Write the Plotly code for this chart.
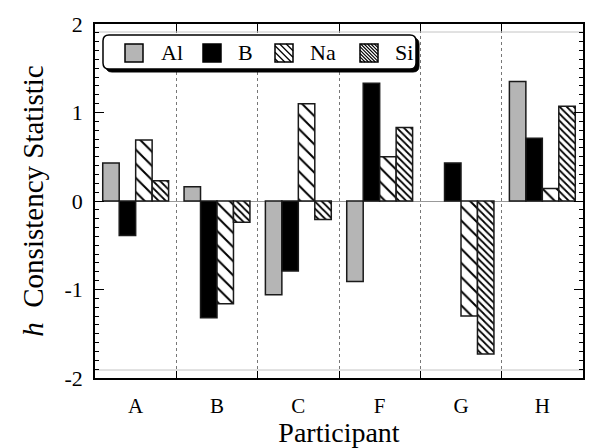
import plotly.graph_objects as go

# ---- data ----
participants = ["A", "B", "C", "F", "G", "H"]
series = ["Al", "B", "Na", "Si"]
al_vals = [0.43, 0.16, -1.06, -0.91, None, 1.35]
b_vals = [-0.39, -1.32, -0.79, 1.33, 0.43, 0.71]
na_vals = [0.69, -1.16, 1.10, 0.50, -1.30, 0.14]
si_vals = [0.23, -0.24, -0.21, 0.83, -1.73, 1.07]
y_ticks = [-2, -1, 0, 1, 2]

W, H = 590, 448
L, R, T, B = 95, 583, 24, 378
PW, PH = R - L, B - T
FONT = "Liberation Serif"
EDGE = "#1a1a1a"

styles = {
    "Al": dict(marker=dict(color="#b5b5b5", line=dict(color=EDGE, width=1.5))),
    "B": dict(marker=dict(color="black", line=dict(color=EDGE, width=1.5))),
    "Na": dict(marker=dict(color="white", line=dict(color=EDGE, width=1.5),
                           pattern=dict(shape="\\", size=10, solidity=0.2,
                                        fgcolor="black", bgcolor="white", fillmode="replace"))),
    "Si": dict(marker=dict(color="white", line=dict(color=EDGE, width=1.5),
                           pattern=dict(shape="\\", size=5, solidity=0.35,
                                        fgcolor="black", bgcolor="white", fillmode="replace"))),
}
values = {"Al": al_vals, "B": b_vals, "Na": na_vals, "Si": si_vals}

fig = go.Figure()
for name in series:
    fig.add_trace(go.Bar(x=participants, y=values[name], name=name,
                         showlegend=False, **styles[name]))


def px_x(x):
    return (x - L) / PW


def px_y(y):
    return (B - y) / PH


shapes = []
annotations = []

# thin inner horizontal lines near top and bottom of the frame
for yy in (T + 8, B - 8):
    shapes.append(dict(type="line", xref="paper", yref="paper", x0=0, x1=1,
                       y0=px_y(yy), y1=px_y(yy), line=dict(color="#c4c4c4", width=1),
                       layer="below"))


def rounded_path(x0, y0, x1, y1, r):
    pts = [("M", [(x0 + r, y0)]), ("L", [(x1 - r, y0)]), ("Q", [(x1, y0), (x1, y0 + r)]),
           ("L", [(x1, y1 - r)]), ("Q", [(x1, y1), (x1 - r, y1)]), ("L", [(x0 + r, y1)]),
           ("Q", [(x0, y1), (x0, y1 - r)]), ("L", [(x0, y0 + r)]), ("Q", [(x0, y0), (x0 + r, y0)])]
    s = ""
    for cmd, ps in pts:
        s += cmd + " " + " ".join(f"{px_x(a):.5f},{px_y(b):.5f}" for a, b in ps) + " "
    return s + "Z"


# legend box with drop shadow
bx0, by0, bx1, by1 = 103, 35, 416, 69
shapes.append(dict(type="path", xref="paper", yref="paper",
                   path=rounded_path(bx0 + 3, by0 + 3, bx1 + 3, by1 + 3, 6),
                   fillcolor="black", line=dict(color="black", width=1), layer="above"))
shapes.append(dict(type="path", xref="paper", yref="paper",
                   path=rounded_path(bx0, by0, bx1, by1, 6),
                   fillcolor="white", line=dict(color="black", width=1.5), layer="above"))

sw_x = {"Al": 125, "B": 203, "Na": 275, "Si": 360}
txt_x = {"Al": 159, "B": 236, "Na": 308, "Si": 393}
spacing = {"Na": 6.5, "Si": 3.4}
S = 18
sy0 = 44
for name in series:
    x0 = sw_x[name]
    fill = styles[name]["marker"]["color"]
    shapes.append(dict(type="rect", xref="paper", yref="paper",
                       x0=px_x(x0), x1=px_x(x0 + S), y0=px_y(sy0 + S), y1=px_y(sy0),
                       fillcolor=fill, line=dict(width=0), layer="above"))
    if name in spacing:
        sp = spacing[name]
        c = -S + sp / 2
        while c < S:
            if c >= 0:
                p0, p1 = (x0 + c, sy0), (x0 + S, sy0 + S - c)
            else:
                p0, p1 = (x0, sy0 - c), (x0 + S + c, sy0 + S)
            shapes.append(dict(type="line", xref="paper", yref="paper",
                               x0=px_x(p0[0]), y0=px_y(p0[1]), x1=px_x(p1[0]), y1=px_y(p1[1]),
                               line=dict(color="black", width=1.3 if name == "Na" else 1.1),
                               layer="above"))
            c += sp
    shapes.append(dict(type="rect", xref="paper", yref="paper",
                       x0=px_x(x0), x1=px_x(x0 + S), y0=px_y(sy0 + S), y1=px_y(sy0),
                       fillcolor="rgba(0,0,0,0)", line=dict(color="black", width=1.5),
                       layer="above"))
    annotations.append(dict(xref="paper", yref="paper", x=px_x(txt_x[name]), y=px_y(53),
                            xanchor="left", yanchor="middle", text=name, showarrow=False,
                            font=dict(family=FONT, size=22, color="black")))

fig.update_layout(
    width=W, height=H, autosize=False,
    margin=dict(l=L, r=W - R, t=T, b=H - B, autoexpand=False),
    paper_bgcolor="white", plot_bgcolor="white",
    barmode="group", bargap=0.19, bargroupgap=0,
    font=dict(family=FONT, color="black"),
    shapes=shapes, annotations=annotations,
)
fig.update_xaxes(
    type="category", categoryorder="array", categoryarray=participants,
    range=[-0.5, len(participants) - 0.5], automargin=False,
    tickson="boundaries", ticks="inside", ticklen=7, tickcolor="black", tickwidth=1,
    showgrid=True, griddash="dot", gridcolor="#777777", gridwidth=1,
    showline=True, linecolor="black", linewidth=1.5, mirror="ticks",
    tickfont=dict(family=FONT, size=21, color="black"), ticklabelstandoff=8,
    title=dict(text="Participant", font=dict(family=FONT, size=28, color="black"), standoff=8),
)
fig.update_yaxes(
    range=[-2, 2], tickvals=y_ticks, ticktext=[str(v) for v in y_ticks], automargin=False,
    ticks="inside", ticklen=9, tickcolor="black", tickwidth=1,
    minor=dict(dtick=0.1, ticks="inside", ticklen=4, tickcolor="black", tickwidth=1),
    showgrid=False, zeroline=True, zerolinecolor="#999999", zerolinewidth=1,
    showline=True, linecolor="black", linewidth=1.5, mirror="ticks",
    tickfont=dict(family=FONT, size=22, color="black"), ticklabelstandoff=6,
    title=dict(text="<i>h</i>\u00a0\u00a0Consistency Statistic",
               font=dict(family=FONT, size=29, color="black"), standoff=12),
)

fig.write_html("out.html", config={"displayModeBar": False},
               post_script="document.body.style.margin='0';document.body.style.overflow='hidden';")
